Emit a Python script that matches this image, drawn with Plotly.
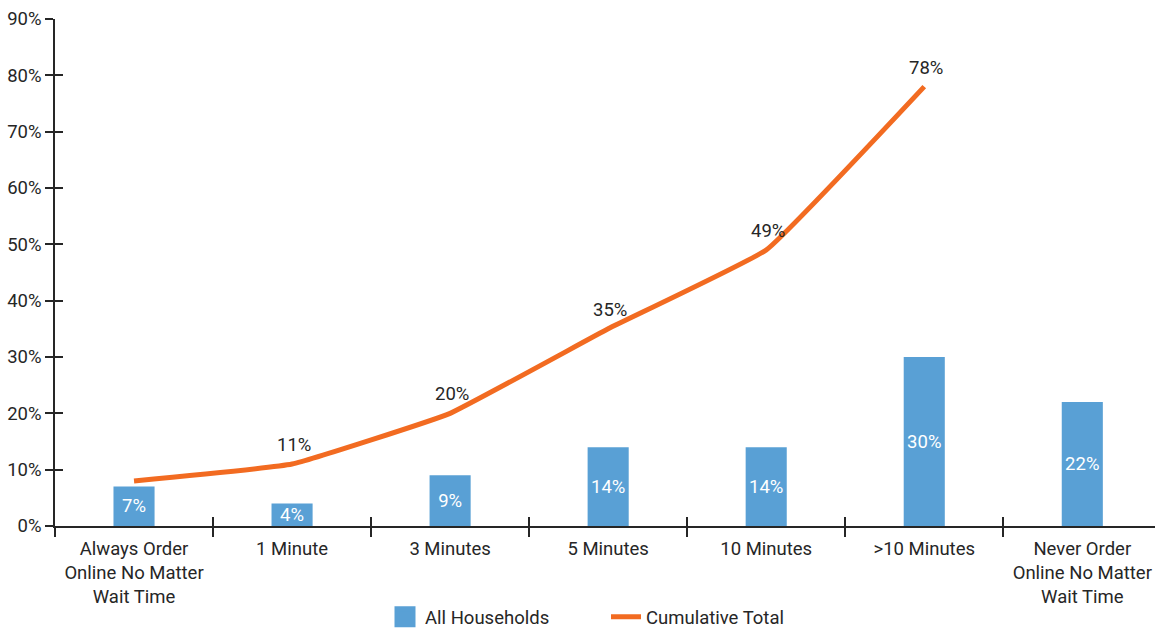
import plotly.graph_objects as go

categories = [
    "Always Order<br>Online No Matter<br>Wait Time",
    "1 Minute",
    "3 Minutes",
    "5 Minutes",
    "10 Minutes",
    ">10 Minutes",
    "Never Order<br>Online No Matter<br>Wait Time",
]
household_share = [7, 4, 9, 14, 14, 30, 22]
cumulative_categories = categories[:6]
cumulative_total = [8, 11, 20, 35, 49, 78]
cumulative_labels = ["", "11%", "20%", "35%", "49%", "78%"]
y_tick_values = [0, 10, 20, 30, 40, 50, 60, 70, 80, 90]

FONT = "Roboto, sans-serif"
FS = 18.5
TEXT_COLOR = "#262626"
AXIS_COLOR = "#262626"
BAR_COLOR = "#59a0d5"
LINE_COLOR = "#f26b21"

fig = go.Figure()

fig.add_trace(go.Bar(
    name="All Households",
    x=categories,
    y=household_share,
    width=0.26,
    marker=dict(color=BAR_COLOR, line=dict(width=0)),
    text=[f"{v}%" for v in household_share],
    textposition="inside",
    insidetextanchor="middle",
    textangle=0,
    textfont=dict(color="white", size=FS, family=FONT),
    hoverinfo="skip",
    showlegend=False,
))

fig.add_trace(go.Scatter(
    name="Cumulative Total",
    x=cumulative_categories,
    y=cumulative_total,
    mode="lines",
    line=dict(color=LINE_COLOR, width=5, shape="spline", smoothing=0.3),
    hoverinfo="skip",
    showlegend=False,
))

# value labels floating just above the cumulative line
for cat, val, lab in zip(cumulative_categories, cumulative_total, cumulative_labels):
    if lab:
        fig.add_annotation(
            x=cat, y=val, text=lab, showarrow=False,
            xanchor="center", yanchor="middle", yshift=19, xshift=2,
            font=dict(color=TEXT_COLOR, size=FS, family=FONT),
        )

# legend entries: square swatch for the bars, short thick stroke for the line
fig.add_trace(go.Scatter(
    name="All Households", x=[None], y=[None], mode="markers",
    marker=dict(symbol="square", size=16, color=BAR_COLOR,
                line=dict(color=BAR_COLOR, width=5)),
    hoverinfo="skip",
))
fig.add_trace(go.Scatter(
    name="Cumulative Total", x=[None], y=[None], mode="lines",
    line=dict(color=LINE_COLOR, width=5),
    hoverinfo="skip",
))

x_range = [-0.5, 6.46]
y_range = [0, 90]

fig.update_layout(
    width=1155,
    height=630,
    margin=dict(l=55, r=0, t=19, b=104, autoexpand=False),
    paper_bgcolor="white",
    plot_bgcolor="white",
    font=dict(family=FONT, size=FS, color=TEXT_COLOR),
    showlegend=True,
    uniformtext=dict(minsize=FS, mode="show"),
    legend=dict(
        orientation="h",
        x=0.30, xanchor="left",
        y=-0.18, yanchor="middle",
        font=dict(size=FS, family=FONT, color=TEXT_COLOR),
        itemwidth=30,
        itemsizing="trace",
        entrywidthmode="pixels",
        entrywidth=176,
        bgcolor="rgba(0,0,0,0)",
    ),
    xaxis=dict(
        type="category",
        categoryarray=categories,
        range=x_range,
        showline=True, linecolor=AXIS_COLOR, linewidth=1.5,
        showgrid=False, zeroline=False,
        ticks="outside", tickson="boundaries", ticklen=9, tickwidth=1.5, tickcolor=AXIS_COLOR,
        ticklabelstandoff=5,
        tickfont=dict(size=FS, family=FONT, color=TEXT_COLOR),
        fixedrange=True,
        automargin=False,
    ),
    xaxis2=dict(
        type="category",
        categoryarray=categories,
        overlaying="x",
        matches="x",
        range=x_range,
        showline=False, showgrid=False, zeroline=False,
        ticks="inside", tickson="boundaries", ticklen=9, tickwidth=1.5, tickcolor=AXIS_COLOR,
        showticklabels=False,
    ),
    yaxis=dict(
        range=y_range,
        tickvals=y_tick_values,
        ticktext=[f"{v}%" for v in y_tick_values],
        showline=True, linecolor=AXIS_COLOR, linewidth=1.5,
        showgrid=False, zeroline=False,
        ticks="outside", ticklen=8, tickwidth=1.5, tickcolor=AXIS_COLOR,
        tickfont=dict(size=FS, family=FONT, color=TEXT_COLOR),
        fixedrange=True,
        automargin=False,
    ),
    yaxis2=dict(
        overlaying="y",
        matches="y",
        range=y_range,
        tickvals=y_tick_values,
        showline=False, showgrid=False, zeroline=False,
        ticks="inside", ticklen=8, tickwidth=1.5, tickcolor=AXIS_COLOR,
        showticklabels=False,
    ),
)

# invisible carrier trace so the overlay axes are drawn
fig.add_trace(go.Scatter(
    x=[categories[0]], y=[0], xaxis="x2", yaxis="y2",
    mode="markers", marker=dict(opacity=0), showlegend=False, hoverinfo="skip",
))

fig.write_html("out.html")
